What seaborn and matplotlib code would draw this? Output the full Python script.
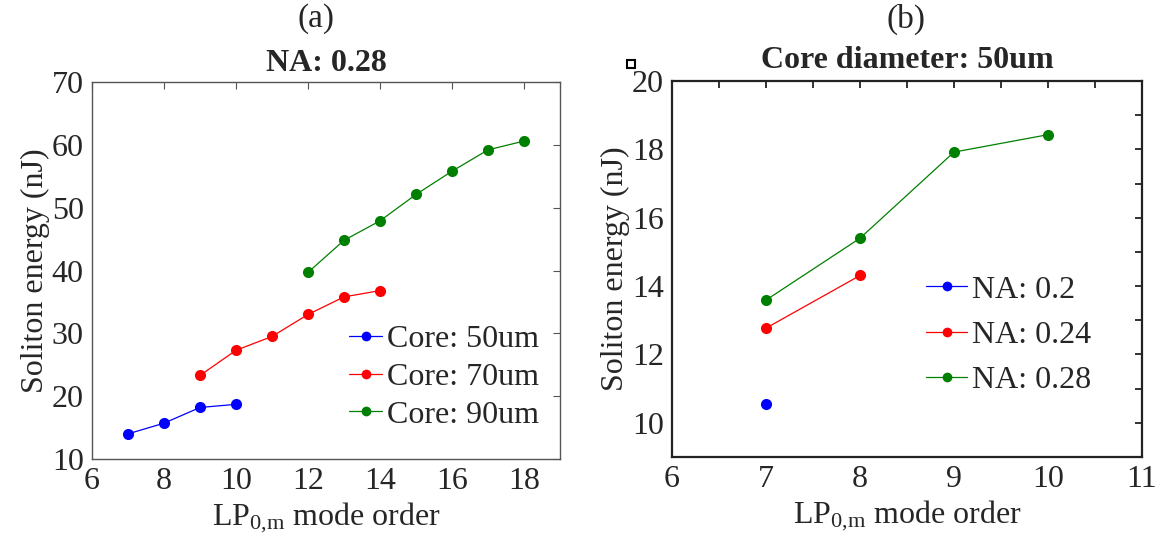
import matplotlib
matplotlib.use("Agg")
import matplotlib.pyplot as plt
from matplotlib.patches import Rectangle
from matplotlib.ticker import MultipleLocator
import seaborn as sns
import pandas as pd

# ---- data: panel (a), NA 0.28 ----
a_core50_x = [7, 8, 9, 10]
a_core50_y = [14.0, 15.7, 18.2, 18.7]
a_core70_x = [9, 10, 11, 12, 13, 14]
a_core70_y = [23.3, 27.3, 29.5, 33.0, 35.8, 36.8]
a_core90_x = [12, 13, 14, 15, 16, 17, 18]
a_core90_y = [39.7, 44.8, 47.9, 52.1, 55.8, 59.2, 60.6]
a_labels = ["Core: 50um", "Core: 70um", "Core: 90um"]

# ---- data: panel (b), core 50um ----
b_na20_x = [7]
b_na20_y = [10.54]
b_na24_x = [7, 8]
b_na24_y = [12.77, 14.31]
b_na28_x = [7, 8, 9, 10]
b_na28_y = [13.59, 15.40, 17.92, 18.43]
b_labels = ["NA: 0.2", "NA: 0.24", "NA: 0.28"]

colors = ["#0000ff", "#ff0000", "#008000"]

sns.set_theme(style="white")
plt.rcParams["font.family"] = ["Liberation Serif", "DejaVu Serif"]
plt.rcParams["mathtext.fontset"] = "custom"
plt.rcParams["mathtext.rm"] = "Liberation Serif"
plt.rcParams["mathtext.it"] = "Liberation Serif:italic"
plt.rcParams["mathtext.bf"] = "Liberation Serif:bold"

fig = plt.figure(figsize=(11.73, 5.44), dpi=100)
ax_a = fig.add_axes([92 / 1173, 1 - 459 / 544, 468 / 1173, 377 / 544])
ax_b = fig.add_axes([672 / 1173, 1 - 457 / 544, 470 / 1173, 376 / 544])

def make_df(xs, ys, labels):
    rows = []
    for x, y, lab in zip(xs, ys, labels):
        for xi, yi in zip(x, y):
            rows.append({"x": xi, "y": yi, "series": lab})
    return pd.DataFrame(rows)

df_a = make_df([a_core50_x, a_core70_x, a_core90_x],
               [a_core50_y, a_core70_y, a_core90_y], a_labels)
df_b = make_df([b_na20_x, b_na24_x, b_na28_x],
               [b_na20_y, b_na24_y, b_na28_y], b_labels)

txt_col = "#262626"
FS = 23
legend_cfg = {
    "a": dict(anchor=(0.549, 0.2175), handlelength=1.05, labelspacing=0.27),
    "b": dict(anchor=(0.540, 0.324), handlelength=1.3, labelspacing=0.5),
}
for key, ax, df, labels in [("a", ax_a, df_a, a_labels), ("b", ax_b, df_b, b_labels)]:
    sns.lineplot(data=df, x="x", y="y", hue="series", hue_order=labels,
                 palette=dict(zip(labels, colors)), marker="o",
                 markersize=8, markeredgewidth=0, linewidth=0.9,
                 ax=ax, legend=False, sort=True)
    handles = [plt.Line2D([], [], color=c, marker="o", markersize=7,
                          markeredgewidth=0, linewidth=0.9) for c in colors]
    cfg = legend_cfg[key]
    ax.legend(handles, labels, frameon=False, fontsize=FS,
              handlelength=cfg["handlelength"], handletextpad=0.15,
              labelspacing=cfg["labelspacing"], borderpad=0, borderaxespad=0,
              loc="center left", bbox_to_anchor=cfg["anchor"],
              labelcolor=txt_col)
    ax.set_ylabel("Soliton energy (nJ)", fontsize=FS, color=txt_col, labelpad=1)
    ax.set_xlabel(r"LP$_{\mathrm{0{,}m}}$ mode order", fontsize=FS, color=txt_col, labelpad=3)
    ax.tick_params(axis="both", which="both", direction="in", top=True, right=True,
                   labelsize=FS, labelcolor=txt_col, pad=6)

# panel (a) axes
ax_a.set_xlim(6, 19)
ax_a.set_ylim(10, 70)
ax_a.xaxis.set_major_locator(MultipleLocator(2))
ax_a.yaxis.set_major_locator(MultipleLocator(10))
ax_a.tick_params(which="major", length=5, width=0.8, color="#555555")
for s in ax_a.spines.values():
    s.set_color("#555555")
    s.set_linewidth(1.0)
ax_a.set_title("NA: 0.28", fontsize=FS, fontweight="bold", pad=8)

# panel (b) axes
ax_b.set_xlim(6, 11)
ax_b.set_ylim(9, 20)
ax_b.xaxis.set_major_locator(MultipleLocator(1))
ax_b.xaxis.set_minor_locator(MultipleLocator(0.5))
ax_b.yaxis.set_major_locator(MultipleLocator(2))
ax_b.yaxis.set_minor_locator(MultipleLocator(1))
ax_b.tick_params(which="both", length=5, width=1.3, color="#222222")
for s in ax_b.spines.values():
    s.set_color("#222222")
    s.set_linewidth(1.6)
ax_b.set_title("Core diameter: 50um", fontsize=FS, fontweight="bold", pad=9)

# panel letters
fig.text(316 / 1173, 1 - 19 / 544, "(a)", ha="center", va="center", fontsize=24, color=txt_col)
fig.text(906 / 1173, 1 - 19 / 544, "(b)", ha="center", va="center", fontsize=24, color=txt_col)

# stray small square near panel (b)
fig.add_artist(Rectangle((627 / 1173, 1 - 68 / 544), 8 / 1173, 8 / 544,
                         transform=fig.transFigure, fill=False,
                         edgecolor="black", linewidth=1.5))

fig.savefig("out.png", dpi=100)
